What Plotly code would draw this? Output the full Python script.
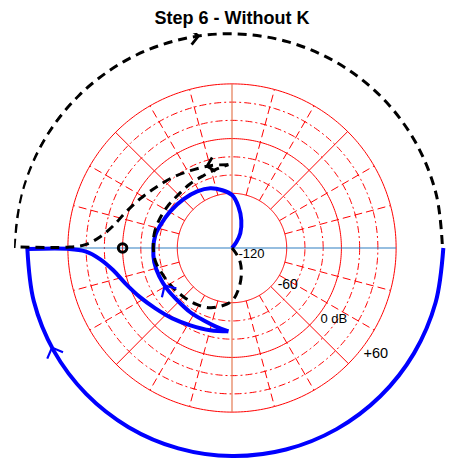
import numpy as np
import plotly.graph_objects as go

# ---------------- data: phase (deg) and magnitude (dB) ----------------
# positive-frequency branch (blue), in travel order
blue_arc_phase = [360, 345, 330, 315, 300, 285, 270, 255, 240, 225, 210, 195, 180]
blue_arc_db = [111.8, 111.2, 110.6, 110.0, 109.4, 108.8, 108.2, 107.5, 106.9, 106.3, 105.7, 105.1, 104.5]

blue_s_phase = [180.3, 181.3, 184.9, 190.6, 198.3, 208.3, 218.2, 229.7, 241.7, 255.2, 267.5]
blue_s_db = [60.6, 40.9, 25.0, 12.5, 3.3, -5.8, -13.0, -18.8, -23.7, -26.6, -28.5]

blue_loop_phase = [267.5, 258.0, 248.4, 237.0, 223.7, 212.6, 201.3, 190.4, 180.2, 170.6, 162.4,
                   149.3, 135.0, 121.5, 110.0, 99.5, 89.7, 81.4, 71.4, 60.5, 53.0, 50.0]
blue_loop_db = [-28.5, -32.2, -34.7, -36.0, -37.0, -35.8, -34.4, -33.3, -33.7, -34.7, -37.5,
                -41.2, -44.5, -47.1, -50.3, -55.8, -62.2, -73.7, -88.0, -101.5, -112.2, -120.0]

# negative-frequency closing arc (black dashed), in travel order
black_arc_phase = [180, 165, 150, 135, 120, 105, 90, 75, 60, 45, 30, 15, 0]
black_arc_db = [119.1, 118.4, 117.7, 117.0, 116.4, 115.7, 115.0, 114.3, 113.6, 113.0, 112.3, 111.6, 110.9]

critical_phase = [180]
critical_db = [0]

ring_db_major = [-60, 0, 60]
ring_db_minor = [-40, -20, 20, 40]
tick_db = [-120, -60, 0, 60]
tick_labels = ["-120", "-60", "0 dB", "+60"]
title_text = "Step 6 - Without K"

# ---------------- geometry helpers ----------------
DB0 = 120.0              # radial value = dB + DB0
P_PX = 218.0             # polar radius in pixels
R_MAX = 239.1            # radial range
U_PER_PX = R_MAX / P_PX
W, H = 456, 458          # page body has an 8px margin
CX, CY = 223.7, 239.7    # polar centre inside the figure


def rad(db):
    return np.asarray(db, dtype=float) + DB0


def chevron(phase, db, idx, length_px, half_deg):
    ph = np.asarray(phase, dtype=float)
    r = rad(db)
    i = int(np.floor(idx))
    f = idx - i
    th_t = ph[i] + f * (ph[i + 1] - ph[i])
    r_t = r[i] + f * (r[i + 1] - r[i])
    x0, y0 = r[i] * np.cos(np.radians(ph[i])), r[i] * np.sin(np.radians(ph[i]))
    x1, y1 = r[i + 1] * np.cos(np.radians(ph[i + 1])), r[i + 1] * np.sin(np.radians(ph[i + 1]))
    tx, ty = r_t * np.cos(np.radians(th_t)), r_t * np.sin(np.radians(th_t))
    d = np.arctan2(y1 - y0, x1 - x0)
    L = length_px * U_PER_PX
    pts = []
    for s in (1, 0, -1):
        if s == 0:
            pts.append((tx, ty))
        else:
            a = d + np.pi - s * np.radians(half_deg)
            pts.append((tx + L * np.cos(a), ty + L * np.sin(a)))
    xs = np.array([p[0] for p in pts])
    ys = np.array([p[1] for p in pts])
    return list(np.degrees(np.arctan2(ys, xs))), list(np.hypot(xs, ys))


fig = go.Figure()
RED = "rgb(255,0,0)"


def add_line(theta, r, color, width, dash="solid", shape="linear", clip=True):
    fig.add_trace(go.Scatterpolar(theta=[float(v) for v in theta], r=[float(v) for v in r], mode="lines",
                                  line=dict(color=color, width=width, dash=dash, shape=shape),
                                  hoverinfo="skip", showlegend=False, cliponaxis=clip))


# ---------------- grid ----------------
circ = np.linspace(0, 360, 361)
for d in ring_db_minor:
    add_line(circ, np.full_like(circ, rad(d)), RED, 1, dash="7px,3px,2px,3px")
for d in ring_db_major:
    add_line(circ, np.full_like(circ, rad(d)), RED, 1)

r_in, r_out = float(rad(ring_db_major[0])), float(rad(ring_db_major[-1]))
for a in range(0, 360, 15):
    if a % 90 == 0:
        continue
    if a % 45 == 0:
        add_line([a + 0.2, a + 0.2], [r_in, r_out], RED, 1)
    else:
        add_line([a, a], [r_in, r_out], RED, 1, dash="8px,4px")

# horizontal and vertical axes lines
add_line([180, 0, 0], [r_out, 0, r_out], "#2f7fc1", 1.2)
add_line([90, 0, 270], [r_out, 0, r_out], "#e57a52", 1.2)

# ---------------- blue branch ----------------
BLUE = "#0000ff"
add_line(blue_arc_phase, rad(blue_arc_db), BLUE, 4, shape="spline", clip=False)
add_line([blue_s_phase[0]] + blue_s_phase, rad([blue_arc_db[-1]] + blue_s_db), BLUE, 4, shape="spline")
add_line(blue_loop_phase, rad(blue_loop_db), BLUE, 4, shape="spline")

# ---------------- black dashed branch (mirror image: negative frequencies) ----------------
BLACK = "#000000"
DASH = "9px,6px"
black_loop_phase = [360 - p for p in blue_loop_phase[::-1]]
black_loop_db = blue_loop_db[::-1]
black_s_phase = [360 - p for p in blue_s_phase[::-1]] + [360 - blue_s_phase[0]]
black_s_db = blue_s_db[::-1] + [black_arc_db[0]]
add_line(black_loop_phase, rad(black_loop_db), BLACK, 3, dash=DASH, shape="spline")
add_line(black_s_phase, rad(black_s_db), BLACK, 3, dash=DASH, shape="spline")
add_line(black_arc_phase, rad(black_arc_db), BLACK, 3, dash=DASH, shape="spline", clip=False)

# ---------------- arrows ----------------
for ph, db, idx, L, w, c in [
    (blue_arc_phase, blue_arc_db, 10.07, 12, 2.2, BLUE),
    (blue_loop_phase, blue_loop_db, 5.3, 12, 2.2, BLUE),
    (black_arc_phase, black_arc_db, 5.4, 11, 2.8, BLACK),
    (black_s_phase, black_s_db, 1.16, 10, 2.8, BLACK),
]:
    t, r = chevron(ph, db, idx, L, 45)
    add_line(t, r, c, w, clip=False)

# critical point
fig.add_trace(go.Scatterpolar(theta=critical_phase, r=[float(v) for v in rad(critical_db)], mode="markers",
                              marker=dict(symbol="circle-open", size=8.5, color=BLACK,
                                          line=dict(width=3, color=BLACK)),
                              hoverinfo="skip", showlegend=False))

# magnitude labels
label_pos = {"-120": (342.0, 22.5, 13), "-60": (326.2, 73.6, 14),
             "0 dB": (324.8, 136.6, 13), "+60": (323.4, 196.5, 14.5)}
for lab in tick_labels:
    th, rr, fs = label_pos[lab]
    fig.add_trace(go.Scatterpolar(theta=[th], r=[rr], mode="text", text=[lab],
                                  textfont=dict(family="Liberation Sans, Arial", size=fs, color="black"),
                                  textposition="middle center", hoverinfo="skip",
                                  showlegend=False, cliponaxis=False))

fig.update_layout(
    template="none",
    width=W, height=H,
    margin=dict(l=CX - P_PX, r=W - CX - P_PX, t=CY - P_PX, b=H - CY - P_PX, pad=0),
    paper_bgcolor="white",
    title=dict(text=title_text, x=(232 - 8) / W, xanchor="center", y=1 - 9.5 / H, yanchor="middle",
               xref="container", yref="container",
               font=dict(family="Liberation Sans, Arial", size=18, color="black", weight="bold")),
    polar=dict(
        domain=dict(x=[0, 1], y=[0, 1]),
        bgcolor="white",
        radialaxis=dict(range=[0, R_MAX], visible=False, showgrid=False, showline=False),
        angularaxis=dict(visible=False, showgrid=False, showline=False,
                         rotation=0, direction="counterclockwise"),
    ),
)

fig.write_html("out.html")
